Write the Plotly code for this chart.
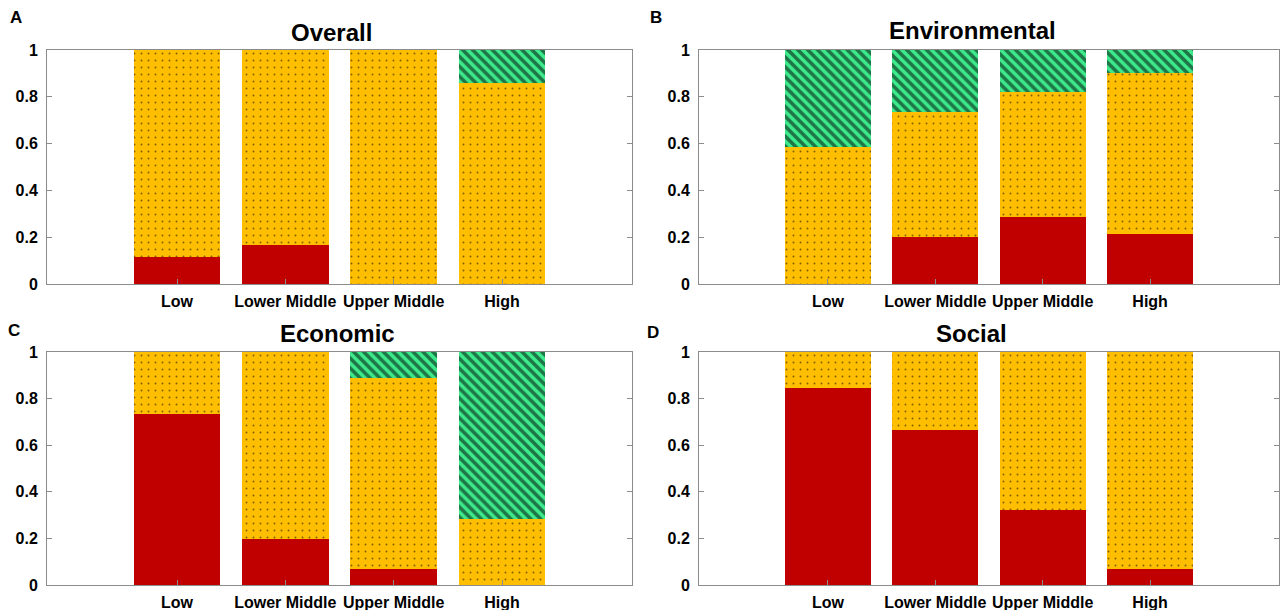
import plotly.graph_objects as go

categories = ["Low", "Lower Middle", "Upper Middle", "High"]
y_ticks = [0, 0.2, 0.4, 0.6, 0.8, 1]

panel_titles = ["Overall", "Environmental", "Economic", "Social"]
panel_letters = ["A", "B", "C", "D"]

overall_red = [0.114, 0.165, 0.0, 0.0]
overall_orange = [0.886, 0.835, 1.0, 0.857]
overall_green = [0.0, 0.0, 0.0, 0.143]

env_red = [0.0, 0.200, 0.287, 0.214]
env_orange = [0.584, 0.537, 0.532, 0.687]
env_green = [0.416, 0.263, 0.181, 0.099]

econ_red = [0.733, 0.199, 0.069, 0.0]
econ_orange = [0.267, 0.801, 0.821, 0.284]
econ_green = [0.0, 0.0, 0.110, 0.716]

social_red = [0.847, 0.667, 0.320, 0.070]
social_orange = [0.153, 0.333, 0.680, 0.930]
social_green = [0.0, 0.0, 0.0, 0.0]

panels = [
    (overall_red, overall_orange, overall_green),
    (env_red, env_orange, env_green),
    (econ_red, econ_orange, econ_green),
    (social_red, social_orange, social_green),
]

RED = "#C00000"
ORANGE = "#FFBF00"
GREEN = "#3DEA8C"
AXIS = "#8C8C8C"
FONT = "Liberation Sans"

W, H = 1280, 610
# pixel boxes of the four axes (left, right, top, bottom)
boxes = [
    (47, 632, 50, 284),
    (699, 1279, 50, 284),
    (47, 632, 352, 585),
    (699, 1279, 352, 585),
]
title_pos = [(331, 32), (972, 30), (337, 333), (971, 333)]
letter_pos = [(16, 18), (656, 18), (14, 330), (653, 332)]

fig = go.Figure()
layout = dict(
    width=W, height=H,
    margin=dict(l=0, r=0, t=0, b=0, autoexpand=False),
    paper_bgcolor="white", plot_bgcolor="white",
    barmode="stack", bargap=0.2,
    showlegend=False,
    font=dict(family=FONT, color="black"),
    annotations=[],
)

for i, (red, orange, green) in enumerate(panels):
    n = "" if i == 0 else str(i + 1)
    xa, ya = "x" + n, "y" + n
    fig.add_trace(go.Bar(x=categories, y=red, name="Red", xaxis=xa, yaxis=ya,
                         marker=dict(color=RED, line=dict(width=0))))
    fig.add_trace(go.Bar(x=categories, y=orange, name="Orange", xaxis=xa, yaxis=ya,
                         marker=dict(color=ORANGE, line=dict(width=0),
                                     pattern=dict(shape=".", fgcolor="black", bgcolor=ORANGE,
                                                  size=7, solidity=0.06))))
    fig.add_trace(go.Bar(x=categories, y=green, name="Green", xaxis=xa, yaxis=ya,
                         marker=dict(color=GREEN, line=dict(width=0),
                                     pattern=dict(shape="\\", fgcolor="black", bgcolor=GREEN,
                                                  size=7, solidity=0.5))))
    l, r, t, b = boxes[i]
    layout["xaxis" + n] = dict(
        domain=[l / W, r / W], anchor=ya, range=[-1.2, 4.2], automargin=False,
        showline=True, linecolor=AXIS, linewidth=1, mirror=True,
        ticks="inside", ticklen=5, tickcolor=AXIS,
        tickfont=dict(family=FONT, size=16, weight="bold", color="black"),
        ticklabelstandoff=3, showgrid=False, zeroline=False, fixedrange=True,
    )
    layout["yaxis" + n] = dict(
        domain=[1 - b / H, 1 - t / H], anchor=xa, range=[0, 1], automargin=False,
        tickvals=y_ticks, ticktext=[f"{v:g}" for v in y_ticks],
        showline=True, linecolor=AXIS, linewidth=1, mirror="ticks",
        ticks="inside", ticklen=5, tickcolor=AXIS,
        tickfont=dict(family=FONT, size=16, weight="bold", color="black"),
        ticklabelstandoff=5, showgrid=False, zeroline=False, fixedrange=True,
    )
    tx, ty = title_pos[i]
    layout["annotations"].append(dict(
        x=tx / W, y=1 - ty / H, xref="paper", yref="paper", text=panel_titles[i],
        showarrow=False, xanchor="center", yanchor="middle",
        font=dict(family=FONT, size=24, weight="bold", color="black")))
    lx, ly = letter_pos[i]
    layout["annotations"].append(dict(
        x=lx / W, y=1 - ly / H, xref="paper", yref="paper", text=panel_letters[i],
        showarrow=False, xanchor="center", yanchor="middle",
        font=dict(family=FONT, size=17, weight="bold", color="black")))

fig.update_layout(**layout)
fig.write_html(
    "out.html",
    config={"displayModeBar": False},
    post_script="document.body.style.margin='0';document.body.style.overflow='hidden';",
)
